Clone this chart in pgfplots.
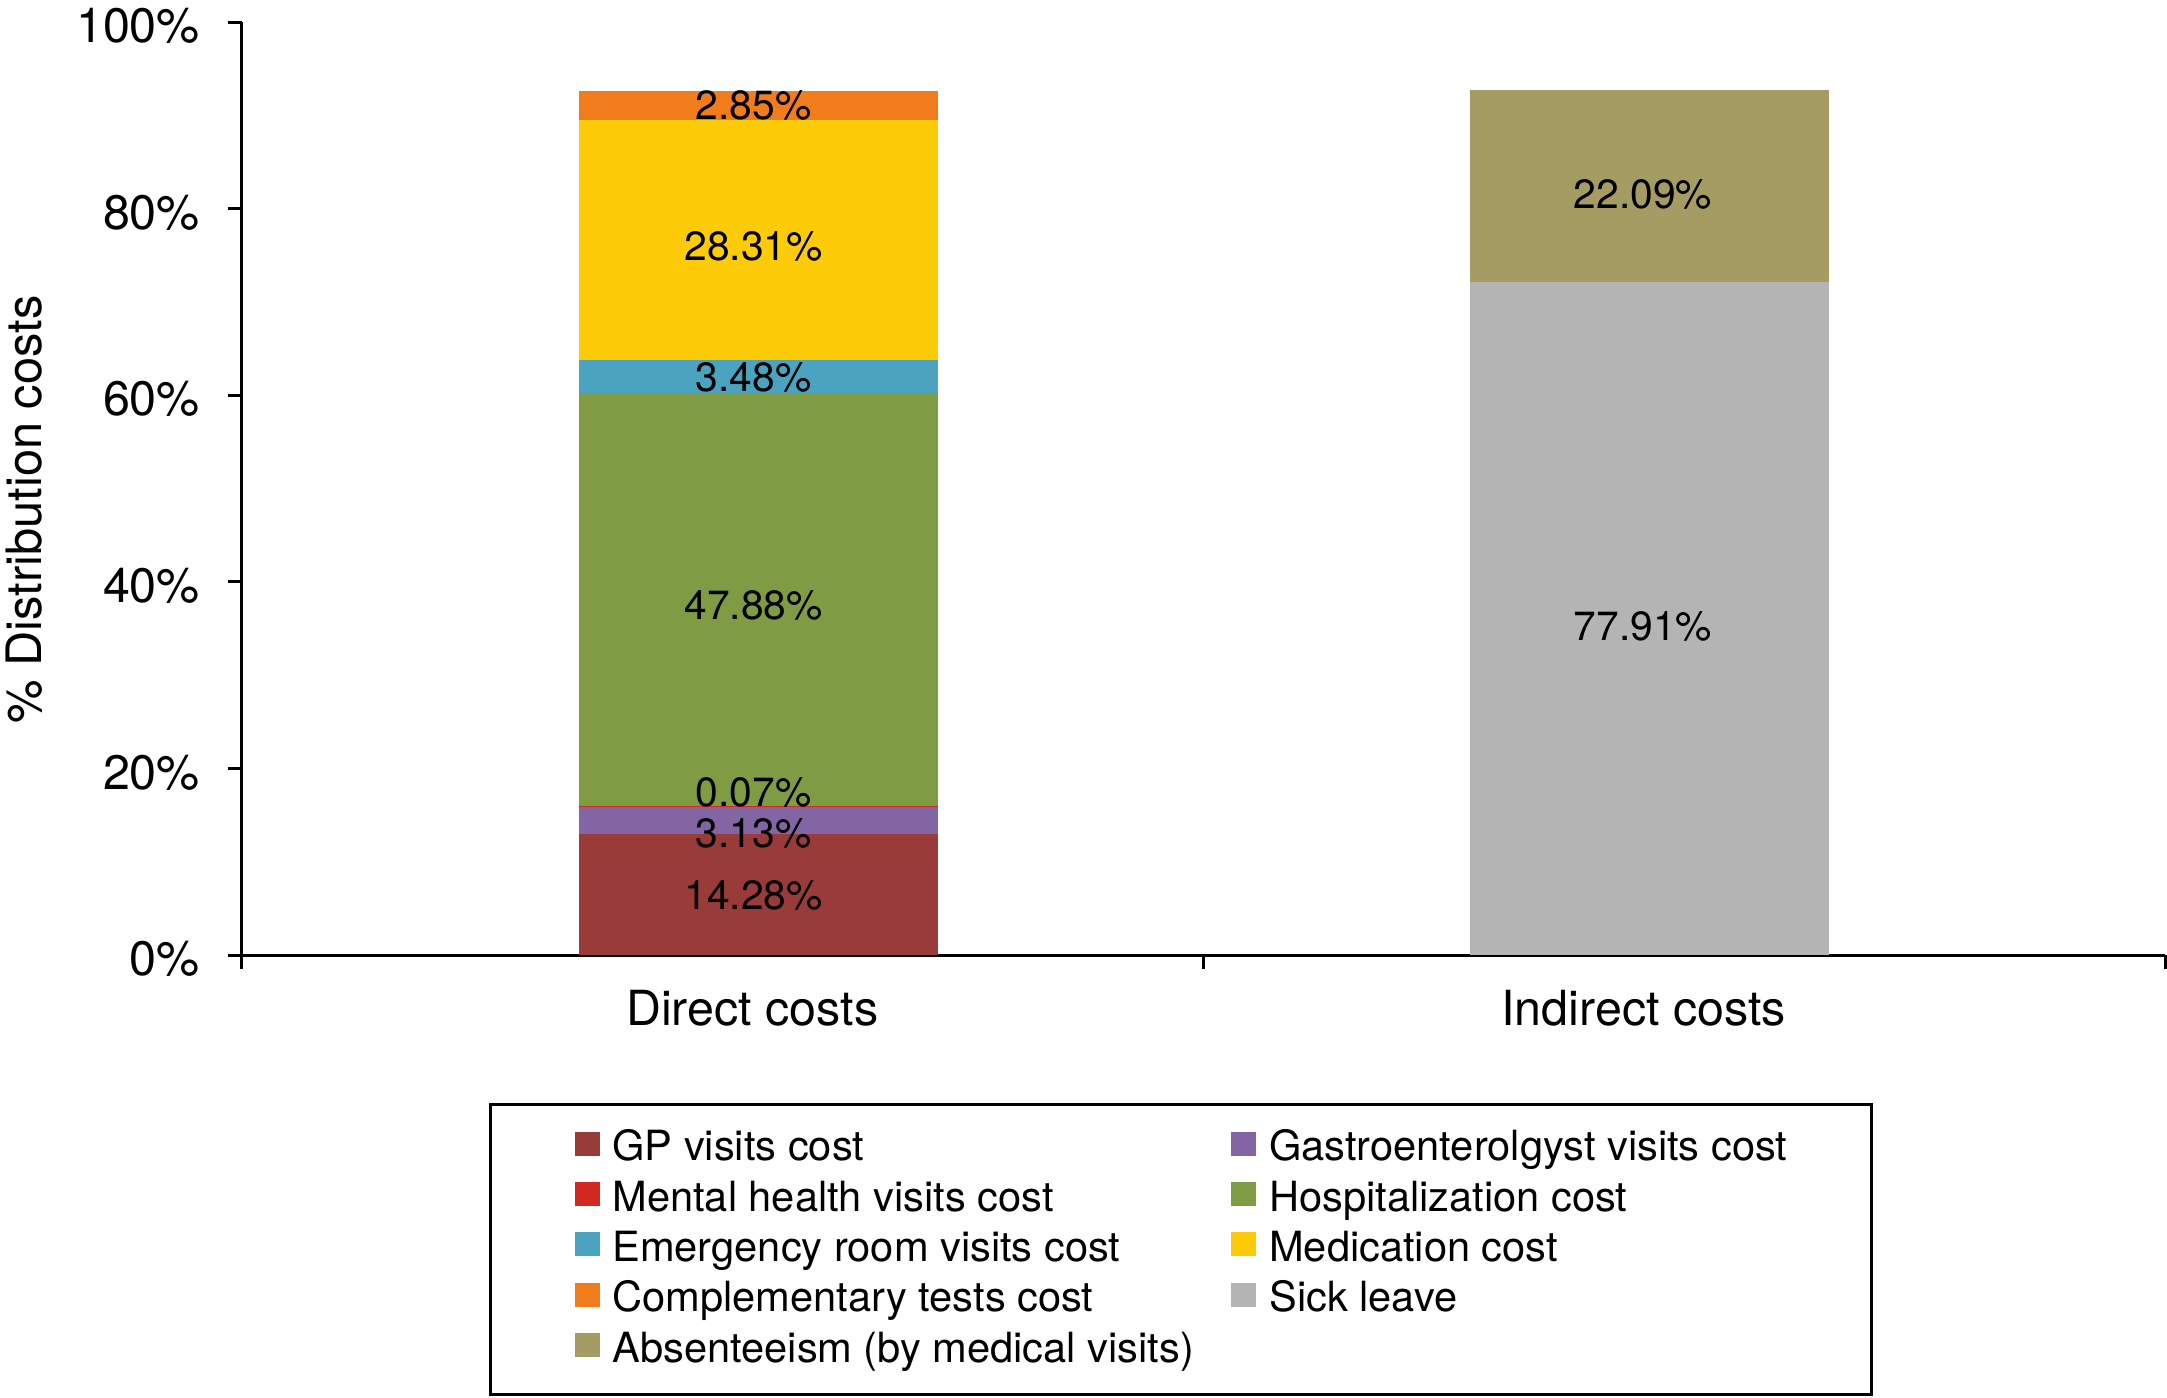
\documentclass[border=0pt]{standalone}
\usepackage{pgfplots}
\pgfplotsset{compat=1.18}
\usepackage{fontspec}
\setmainfont{TeX Gyre Heros}
\definecolor{gpc}{HTML}{993B39}
\definecolor{gastroc}{HTML}{8465A3}
\definecolor{mentalc}{HTML}{D1291F}
\definecolor{hospc}{HTML}{7F9C44}
\definecolor{erc}{HTML}{4AA4C0}
\definecolor{medc}{HTML}{FECB08}
\definecolor{complc}{HTML}{F07C1C}
\definecolor{sickc}{HTML}{B4B4B4}
\definecolor{absc}{HTML}{A59C64}
\begin{document}
\begin{tikzpicture}
\useasboundingbox (-60.5pt,-110.5pt) rectangle (481.25pt,238.75pt);
\begin{axis}[
  at={(0,0)}, anchor=south west,
  scale only axis, width=480.75pt, height=233.25pt,
  xmin=-0.5, xmax=1.5, ymin=0, ymax=100,
  enlargelimits=false,
  ybar stacked, bar width=89.75pt,
  axis x line=bottom, axis y line=left,
  axis line style={-, line width=0.75pt},
  tick align=outside, major tick length=3.5pt, minor tick length=3.5pt,
  tick style={line width=0.75pt, black},
  xtick={0.037,0.964}, xticklabels={Direct costs, Indirect costs},
  major x tick style={draw=none},
  minor xtick={-0.5,0.5,1.5},
  ytick={0,20,40,60,80,100},
  yticklabels={0\%,20\%,40\%,60\%,80\%,100\%},
  ticklabel style={font=\fontsize{12.1}{14}\selectfont},
  xticklabel style={xshift=-1.5pt, yshift=-1.8pt},
  yticklabel style={xshift=-3.5pt, yshift=-1pt},
  ylabel={\% Distribution costs},
  label style={font=\fontsize{12.2}{14}\selectfont},
  ylabel style={at={(axis description cs:-0.104,0.4775)}, anchor=base},
  legend columns=2,
  legend style={
    at={(axis description cs:0.12845,-0.15863)}, anchor=north west,
    draw=black, line width=0.8pt,
    inner xsep=21pt, inner ysep=4.7pt,
    font=\fontsize{10.4}{12}\selectfont,
    nodes={inner sep=0pt, text height=9.3pt, text depth=3.3pt, anchor=base west},
    row sep=0pt,
    /tikz/every odd column/.append style={column sep=3.2pt},
    /tikz/every even column/.append style={column sep=9.4pt},
  },
  legend image code/.code={\fill[#1,/tikz/.cd,draw=none] (0pt,1.25pt) rectangle (6.25pt,7.25pt);},
]
\addplot[fill=gpc, draw=none] coordinates {(0.037,12.96) (0.964,0)};
\addlegendentry{GP visits cost}
\addplot[fill=gastroc, draw=none] coordinates {(0.037,2.93) (0.964,0)};
\addlegendentry{Gastroenterolgyst visits cost}
\addplot[fill=mentalc, draw=none] coordinates {(0.037,0.12) (0.964,0)};
\addlegendentry{Mental health visits cost}
\addplot[fill=hospc, draw=none] coordinates {(0.037,44.24) (0.964,0)};
\addlegendentry{Hospitalization cost}
\addplot[fill=erc, draw=none] coordinates {(0.037,3.50) (0.964,0)};
\addlegendentry{Emergency room visits cost}
\addplot[fill=medc, draw=none] coordinates {(0.037,25.71) (0.964,0)};
\addlegendentry{Medication cost}
\addplot[fill=complc, draw=none] coordinates {(0.037,3.15) (0.964,0)};
\addlegendentry{Complementary tests cost}
\addplot[fill=sickc, draw=none] coordinates {(0.037,0) (0.964,72.14)};
\addlegendentry{Sick leave}
\addplot[fill=absc, draw=none] coordinates {(0.037,0) (0.964,20.54)};
\addlegendentry{Absenteeism (by medical visits)}
\end{axis}
\begin{axis}[
  at={(0,0)}, anchor=south west,
  scale only axis, width=480.75pt, height=233.25pt,
  xmin=-0.5, xmax=1.5, ymin=0, ymax=100,
  enlargelimits=false, hide axis,
]
\addplot[draw=none, mark=none, nodes near coords, point meta=explicit symbolic,
  every node near coord/.append style={anchor=center, inner sep=0pt, font=\fontsize{10.2}{12}\selectfont}]
  coordinates {
  (0.032,6.43) [14.28\%]
  (0.032,13.03) [3.13\%]
  (0.032,17.44) [0.07\%]
  (0.032,37.47) [47.88\%]
  (0.032,61.90) [3.48\%]
  (0.032,75.97) [28.31\%]
  (0.032,91.07) [2.85\%]
  (0.957,35.25) [77.91\%]
  (0.957,81.52) [22.09\%]
};
\end{axis}
\end{tikzpicture}
\end{document}
